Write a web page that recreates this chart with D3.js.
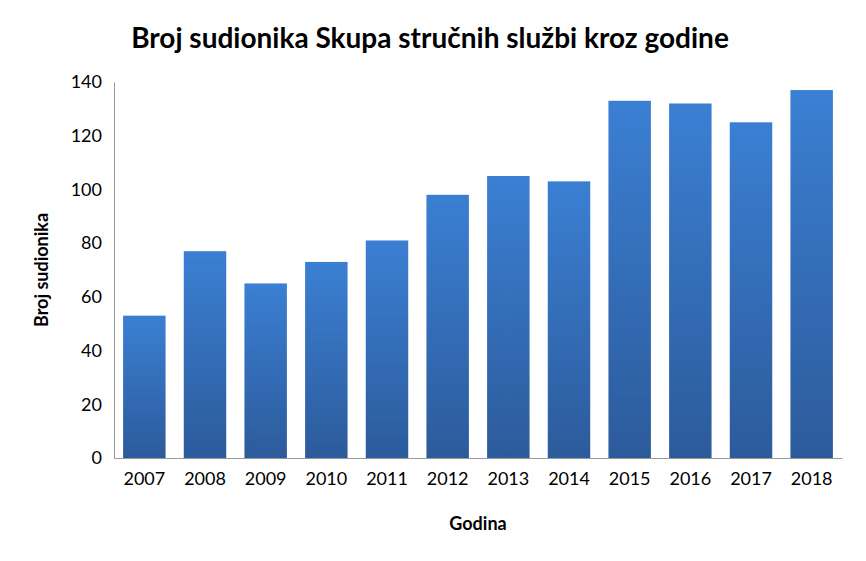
<!DOCTYPE html>
<html><head><meta charset="utf-8">
<script src="https://cdn.jsdelivr.net/npm/d3@7"></script>
<style>body{margin:0;background:#fff;font-family:Lato,"Open Sans",sans-serif}</style>
</head><body>
<svg id="c" width="866" height="561"></svg>
<script>
const years = ["2007","2008","2009","2010","2011","2012","2013","2014","2015","2016","2017","2018"];
const participants = [53, 77, 65, 73, 81, 98, 105, 103, 133, 132, 125, 137];
const yTicks = [0, 20, 40, 60, 80, 100, 120, 140];

const svg = d3.select("#c");
const m = {left: 114, right: 24, top: 82, bottom: 103};
const W = 866, H = 561;

const x = d3.scaleBand().domain(years).range([m.left, W - m.right]).paddingInner(0.3).paddingOuter(0.15);
const y = d3.scaleLinear().domain([0, 140]).range([H - m.bottom, m.top]);

const grad = svg.append("defs").append("linearGradient")
  .attr("id", "g").attr("x1", 0).attr("y1", 0).attr("x2", 0).attr("y2", 1);
grad.append("stop").attr("offset", "0%").attr("stop-color", "#3b7fd3");
grad.append("stop").attr("offset", "100%").attr("stop-color", "#2c5b9b");

svg.selectAll("rect.bar").data(participants).join("rect")
  .attr("class", "bar")
  .attr("x", (d, i) => x(years[i]))
  .attr("width", x.bandwidth())
  .attr("y", d => y(d))
  .attr("height", d => y(0) - y(d))
  .attr("fill", "url(#g)");

const ya = svg.append("g").attr("transform", `translate(${m.left},0)`)
  .call(d3.axisLeft(y).tickValues(yTicks).tickSize(0).tickPadding(12));
ya.select(".domain").attr("stroke", "#999");
ya.selectAll("text").attr("font-size", 18).attr("font-family", "Lato, sans-serif").attr("fill", "#000");

const xa = svg.append("g").attr("transform", `translate(0,${y(0)})`)
  .call(d3.axisBottom(x).tickSize(0).tickPadding(14));
xa.select(".domain").attr("stroke", "#999");
xa.selectAll("text").attr("font-size", 18).attr("font-family", "Lato, sans-serif").attr("fill", "#000");

svg.append("text").attr("x", 430).attr("y", 48).attr("text-anchor", "middle")
  .attr("font-size", 28).attr("font-weight", "bold").text("Broj sudionika Skupa stručnih službi kroz godine");
svg.append("text").attr("x", 478).attr("y", 530).attr("text-anchor", "middle")
  .attr("font-size", 18).attr("font-weight", "bold").text("Godina");
svg.append("text").attr("transform", `translate(48,${(m.top + H - m.bottom) / 2}) rotate(-90)`)
  .attr("text-anchor", "middle").attr("font-size", 18).attr("font-weight", "bold").text("Broj sudionika");
</script>
</body></html>
